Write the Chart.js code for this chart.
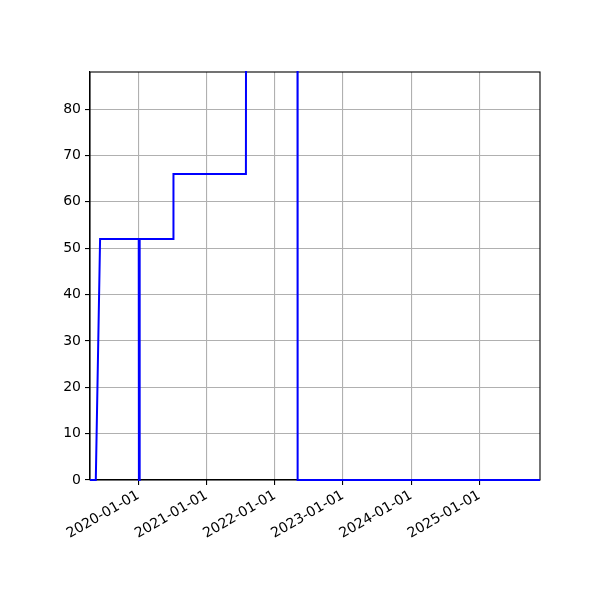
<!DOCTYPE html>
<html>
<head>
<meta charset="utf-8">
<script src="https://cdn.jsdelivr.net/npm/chart.js@4"></script>
<style>
  html, body { margin: 0; padding: 0; background: #fff; }
  #wrap { width: 600px; height: 600px; }
</style>
</head>
<body>
<div id="wrap"><canvas id="chart" width="600" height="600"></canvas></div>
<script>
// data
var dates = ['2019-04-17', '2019-05-18', '2019-06-10', '2020-01-03', '2020-01-04', '2020-01-07', '2020-01-08',
             '2020-07-06', '2020-07-07', '2021-07-30', '2021-07-31', '2022-05-02', '2022-05-03', '2025-11-21'];
var values = [0, 0, 52, 52, 0, 0, 52, 52, 66, 66, 120, 120, 0, 0];
var tickDates = ['2020-01-01', '2021-01-01', '2022-01-01', '2023-01-01', '2024-01-01', '2025-01-01'];
var yMax = 88;

function ts(d) { return Date.parse(d + 'T00:00:00Z'); }
function fmt(v) {
    var d = new Date(v);
    var m = String(d.getUTCMonth() + 1).padStart(2, '0');
    var day = String(d.getUTCDate()).padStart(2, '0');
    return d.getUTCFullYear() + '-' + m + '-' + day;
}

var points = dates.map(function (d, i) { return { x: ts(d), y: values[i] }; });

Chart.defaults.font.family = 'DejaVu Sans';
Chart.defaults.font.size = 14;
Chart.defaults.color = '#000';

// top and right spines (drawn under the line, like matplotlib)
var frame = {
    id: 'frame',
    beforeDatasetsDraw: function (chart) {
        var a = chart.chartArea, ctx = chart.ctx;
        ctx.save();
        ctx.strokeStyle = '#000';
        ctx.lineWidth = 1.1;
        ctx.strokeRect(a.left, a.top, a.right - a.left, a.bottom - a.top);
        ctx.restore();
    }
};

var chart = new Chart(document.getElementById('chart'), {
    type: 'line',
    data: {
        datasets: [{
            data: points,
            borderColor: '#0000ff',
            borderWidth: 2,
            pointRadius: 0,
            tension: 0,
            fill: false,
            clip: 1
        }]
    },
    options: {
        responsive: false,
        animation: false,
        devicePixelRatio: 1,
        layout: { padding: { top: 72, right: 60, left: 0, bottom: 0 } },
        plugins: { legend: { display: false }, tooltip: { enabled: false } },
        scales: {
            x: {
                type: 'linear',
                min: ts(dates[0]),
                max: ts(dates[dates.length - 1]),
                afterBuildTicks: function (scale) {
                    scale.ticks = tickDates.map(function (d) { return { value: ts(d) }; });
                },
                afterFit: function (scale) { scale.height = 120; },
                grid: { color: '#b0b0b0', lineWidth: 1.1, tickColor: '#000', tickLength: 5 },
                border: { color: '#000', width: 1.1 },
                ticks: {
                    autoSkip: false,
                    minRotation: 30,
                    maxRotation: 30,
                    padding: 2,
                    callback: function (v) { return fmt(v); }
                }
            },
            y: {
                min: 0,
                max: yMax,
                afterFit: function (scale) { scale.width = 90; },
                grid: { color: '#b0b0b0', lineWidth: 1.1, tickColor: '#000', tickLength: 5 },
                border: { color: '#000', width: 1.1 },
                ticks: { stepSize: 10, includeBounds: false, padding: 4 }
            }
        }
    },
    plugins: [frame]
});
</script>
</body>
</html>
